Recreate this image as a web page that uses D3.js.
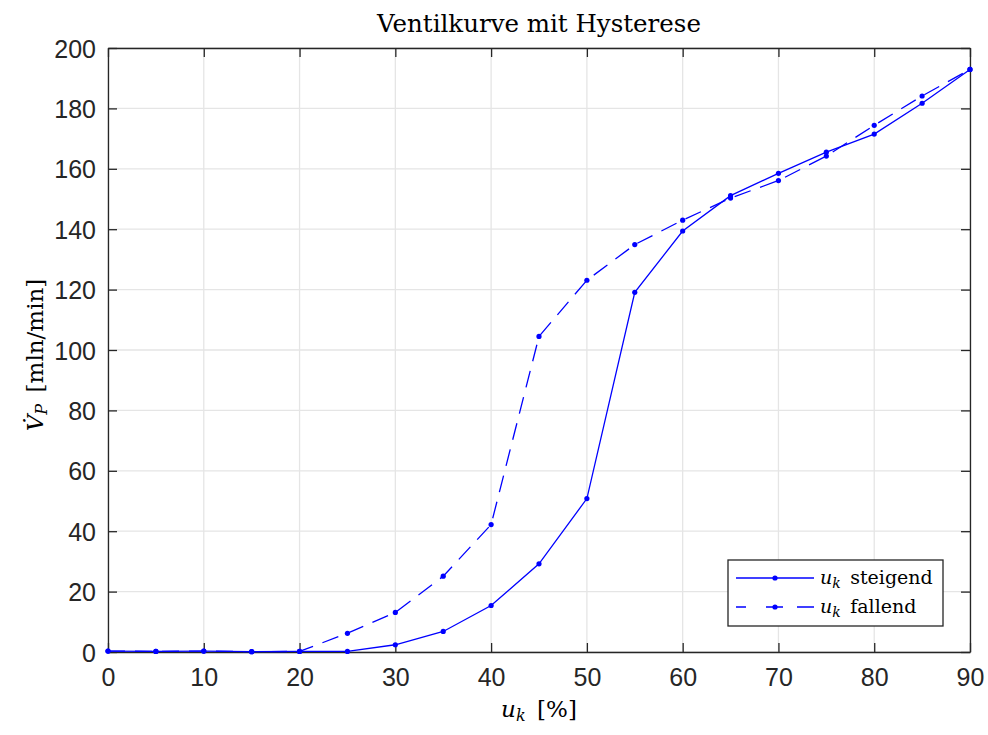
<!DOCTYPE html>
<html lang="de">
<head>
<meta charset="utf-8">
<title>Ventilkurve mit Hysterese</title>
<script src="https://d3js.org/d3.v7.min.js"></script>
<style>
  body { margin: 0; background: #fff; }
  .tick text { font-family: "Liberation Sans", Arial, sans-serif; fill: #262626; }
  .serif { font-family: "DejaVu Serif", "Liberation Serif", serif; fill: #000; }
</style>
</head>
<body>
<div id="chart"></div>
<script>
// data
var uk = [0, 5, 10, 15, 20, 25, 30, 35, 40, 45, 50, 55, 60, 65, 70, 75, 80, 85, 90];
var steigend = [0.3, 0.2, 0.3, 0.1, 0.2, 0.2, 2.4, 6.8, 15.4, 29.2, 50.8, 119.1, 139.4, 151.1, 158.5, 165.5, 171.5, 181.7, 192.9];
var fallend  = [0.3, 0.2, 0.3, 0.1, 0.2, 6.2, 13.1, 25.1, 42.2, 104.5, 123.1, 134.9, 143.0, 150.3, 156.1, 164.2, 174.4, 184.1, 192.9];
var xTicks = [0, 10, 20, 30, 40, 50, 60, 70, 80, 90];
var yTicks = [0, 20, 40, 60, 80, 100, 120, 140, 160, 180, 200];

var width = 988, height = 735;
var margin = {top: 48, right: 18, bottom: 83, left: 108};
var w = width - margin.left - margin.right,
    h = height - margin.top - margin.bottom;

var svg = d3.select("#chart").append("svg")
    .attr("width", width)
    .attr("height", height);

var x = d3.scaleLinear().domain([0, 90]).range([0, w]);
var y = d3.scaleLinear().domain([0, 200]).range([h, 0]);

var g = svg.append("g")
    .attr("transform", "translate(" + margin.left + "," + margin.top + ")");

// grid
g.append("g").selectAll("line")
    .data(xTicks).enter().append("line")
    .attr("x1", d => x(d)).attr("x2", d => x(d))
    .attr("y1", 0).attr("y2", h)
    .attr("stroke", "#e5e5e5").attr("stroke-width", 1.3);
g.append("g").selectAll("line")
    .data(yTicks).enter().append("line")
    .attr("x1", 0).attr("x2", w)
    .attr("y1", d => y(d)).attr("y2", d => y(d))
    .attr("stroke", "#e5e5e5").attr("stroke-width", 1.3);

// axes, ticks pointing inward
var tl = 9;
var xAxis = g.append("g")
    .attr("transform", "translate(0," + h + ")")
    .call(d3.axisBottom(x).tickValues(xTicks).tickSizeInner(-tl).tickSizeOuter(0).tickPadding(16));
var yAxis = g.append("g")
    .call(d3.axisLeft(y).tickValues(yTicks).tickSizeInner(-tl).tickSizeOuter(0).tickPadding(12));
var xTop = g.append("g")
    .call(d3.axisTop(x).tickValues(xTicks).tickSizeInner(-tl).tickSizeOuter(0).tickFormat(""));
var yRight = g.append("g")
    .attr("transform", "translate(" + w + ",0)")
    .call(d3.axisRight(y).tickValues(yTicks).tickSizeInner(-tl).tickSizeOuter(0).tickFormat(""));

[xAxis, yAxis, xTop, yRight].forEach(function(a) {
  a.selectAll(".domain").attr("stroke", "#262626").attr("stroke-width", 1.3);
  a.selectAll(".tick line").attr("stroke", "#262626").attr("stroke-width", 1.3);
  a.selectAll(".tick text").attr("font-size", 25).attr("fill", "#262626");
});
xAxis.selectAll(".tick text").attr("dy", "0.71em");
yAxis.selectAll(".tick text").attr("dy", "0.36em");

// lines
var line = d3.line().x(d => x(d[0])).y(d => y(d[1]));
var series = [
  {name: "steigend", vals: steigend, dash: null, legDash: null},
  {name: "fallend", vals: fallend, dash: "17,10", legDash: "10,20,17,14,17"}
];

series.forEach(function(s) {
  var pts = uk.map((u, i) => [u, s.vals[i]]);
  g.append("path")
      .datum(pts)
      .attr("d", line)
      .attr("fill", "none")
      .attr("stroke", "#0000ff")
      .attr("stroke-width", 1.3)
      .attr("stroke-dasharray", s.dash);
  g.selectAll("circle." + s.name)
      .data(pts).enter().append("circle")
      .attr("class", s.name)
      .attr("cx", d => x(d[0]))
      .attr("cy", d => y(d[1]))
      .attr("r", 2.6)
      .attr("fill", "#0000ff");
});

// title
svg.append("text")
    .attr("class", "serif")
    .attr("x", margin.left + w / 2)
    .attr("y", 32)
    .attr("text-anchor", "middle")
    .attr("font-size", 24.5)
    .text("Ventilkurve mit Hysterese");

// x label: u_k [%]
var xl = svg.append("text")
    .attr("class", "serif")
    .attr("x", margin.left + w / 2)
    .attr("y", 717)
    .attr("text-anchor", "middle")
    .attr("font-size", 23);
xl.append("tspan").attr("font-style", "italic").text("u");
xl.append("tspan").attr("font-style", "italic").attr("font-size", 16).attr("dy", 4).text("k");
xl.append("tspan").attr("dy", -4).text("\u2002[%]");

// y label: V̇_P [mln/min]
var yl = svg.append("text")
    .attr("class", "serif")
    .attr("transform", "translate(43," + (margin.top + h / 2 + 5) + ") rotate(-90)")
    .attr("text-anchor", "middle")
    .attr("font-size", 23);
yl.append("tspan").attr("font-style", "italic").text("V\u0307");
yl.append("tspan").attr("font-style", "italic").attr("font-size", 16).attr("dy", 4).text("P");
yl.append("tspan").attr("dy", -4).text("\u2002[mln/min]");

// legend
var lg = svg.append("g").attr("transform", "translate(728,560)");
lg.append("rect")
    .attr("width", 215).attr("height", 66)
    .attr("fill", "#fff").attr("stroke", "#262626").attr("stroke-width", 1.3);
series.forEach(function(s, i) {
  var ly = 18 + i * 29;
  lg.append("line")
      .attr("x1", 8).attr("x2", 86).attr("y1", ly).attr("y2", ly)
      .attr("stroke", "#0000ff").attr("stroke-width", 1.3)
      .attr("stroke-dasharray", s.legDash);
  lg.append("circle").attr("cx", 47).attr("cy", ly).attr("r", 2.6).attr("fill", "#0000ff");
  var t = lg.append("text").attr("class", "serif")
      .attr("x", 92).attr("y", ly + 6).attr("font-size", 19);
  t.append("tspan").attr("font-style", "italic").text("u");
  t.append("tspan").attr("font-style", "italic").attr("font-size", 14).attr("dy", 4).text("k");
  t.append("tspan").attr("dy", -4).text("\u2002" + s.name);
});
</script>
</body>
</html>
